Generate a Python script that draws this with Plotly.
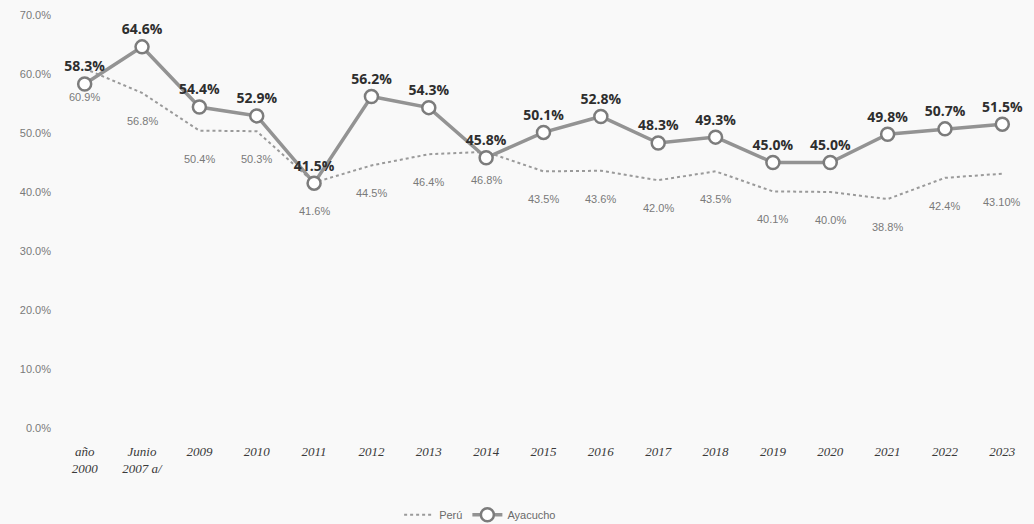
import plotly.graph_objects as go

# Categorías del eje X
categorias = ["año<br>2000", "Junio<br>2007 a/", "2009", "2010", "2011", "2012", "2013",
              "2014", "2015", "2016", "2017", "2018", "2019", "2020", "2021", "2022", "2023"]

# Porcentajes por año (texto tal como se rotula)
ayacucho = ["58.3", "64.6", "54.4", "52.9", "41.5", "56.2", "54.3", "45.8", "50.1",
            "52.8", "48.3", "49.3", "45.0", "45.0", "49.8", "50.7", "51.5"]
peru = ["60.9", "56.8", "50.4", "50.3", "41.6", "44.5", "46.4", "46.8", "43.5",
        "43.6", "42.0", "43.5", "40.1", "40.0", "38.8", "42.4", "43.10"]

y_ticks = [0, 10, 20, 30, 40, 50, 60, 70]

fig = go.Figure()

fig.add_trace(go.Scatter(
    x=categorias, y=[float(v) for v in peru], name="Perú",
    mode="lines",
    line=dict(color="#9a9a9a", width=2, dash="dot"),
))

fig.add_trace(go.Scatter(
    x=categorias, y=[float(v) for v in ayacucho], name="Ayacucho",
    mode="lines+markers+text",
    line=dict(color="#939393", width=3.5),
    marker=dict(symbol="circle", size=13, color="#ffffff",
                line=dict(color="#7c7c7c", width=2.5)),
    text=[v + "%" for v in ayacucho], textposition="top center",
    textfont=dict(family="Open Sans, Liberation Sans", size=14, color="#2e2e2e", weight="bold"),
    cliponaxis=False,
))

# Rótulos de Perú, bajo cada punto de la línea punteada
# (posición por índice de categoría, ya que "2009" etc. se leerían como números)
for i, v in enumerate(peru):
    fig.add_annotation(
        x=i, y=float(v), text=v + "%", showarrow=False,
        yshift=-28, xref="x", yref="y",
        font=dict(family="Liberation Sans Narrow, Liberation Sans", size=11, color="#7a7a7a"),
    )

fig.update_layout(
    width=1034, height=524,
    margin=dict(l=56, r=3, t=15, b=96, autoexpand=False),
    paper_bgcolor="#f9f9f9", plot_bgcolor="#f9f9f9",
    showlegend=True,
    legend=dict(orientation="h", x=0.435, xanchor="center", y=-0.175, yanchor="top",
                font=dict(family="Liberation Sans Narrow, Liberation Sans", size=11, color="#6a6a6a"),
                bgcolor="rgba(0,0,0,0)"),
    font=dict(family="Liberation Sans"),
)

fig.update_xaxes(
    type="category", range=[-0.5, len(categorias) - 0.5], automargin=False,
    showgrid=False, zeroline=False, showline=False, ticks="",
    tickfont=dict(family="Liberation Serif", size=13, color="#3a3a3a", style="italic"),
    ticklabelstandoff=14,
)

fig.update_yaxes(
    range=[0, 70], tickvals=y_ticks, ticktext=[f"{v:.1f}%" for v in y_ticks],
    automargin=False,
    showgrid=False, zeroline=False, showline=False, ticks="",
    tickfont=dict(family="Liberation Sans Narrow, Liberation Sans", size=11, color="#7a7a7a"),
    ticklabelstandoff=4,
)

fig.write_html("out.html")
